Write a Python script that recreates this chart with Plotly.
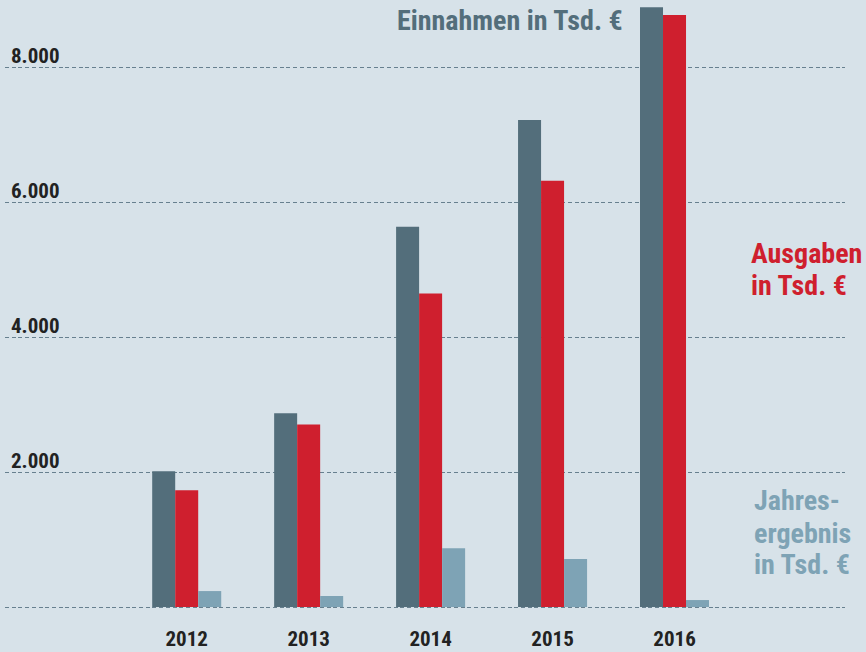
import plotly.graph_objects as go

years = ["2012", "2013", "2014", "2015", "2016"]
einnahmen = [2010, 2870, 5635, 7215, 8885]
ausgaben = [1730, 2705, 4645, 6315, 8770]
jahresergebnis = [236, 163, 872, 710, 103]

ytick_vals = [0, 2000, 4000, 6000, 8000]
ytick_text = ["", "2.000", "4.000", "6.000", "8.000"]

C_E = "#536e7b"
C_A = "#cf1f2e"
C_J = "#7ea3b5"
BG = "#d7e2e9"
FONT = "Roboto Condensed, Open Sans Condensed, sans-serif"

fig = go.Figure()
fig.add_trace(go.Bar(x=years, y=einnahmen, name="Einnahmen", marker=dict(color=C_E, line=dict(width=0))))
fig.add_trace(go.Bar(x=years, y=ausgaben, name="Ausgaben", marker=dict(color=C_A, line=dict(width=0))))
fig.add_trace(go.Bar(x=years, y=jahresergebnis, name="Jahresergebnis", marker=dict(color=C_J, line=dict(width=0))))

fig.update_layout(
    width=866, height=652,
    margin=dict(l=5, r=21, t=0, b=42),
    paper_bgcolor=BG, plot_bgcolor=BG,
    barmode="group", bargap=0.434, bargroupgap=0,
    showlegend=False,
    font=dict(family=FONT, color="#222222"),
)
fig.update_xaxes(
    type="category", range=[-1.49, 5.398],
    showgrid=False, zeroline=False, showline=False,
    ticks="", ticklabelstandoff=14,
    tickfont=dict(size=21, color="#222222", family=FONT, weight="bold"),
)
fig.update_yaxes(
    range=[-44.4, 8992.6],
    tickvals=ytick_vals, ticktext=ytick_text,
    ticklabelposition="inside top", ticklabelstandoff=3, ticklabelshift=3,
    showgrid=True, gridcolor="#67808f", gridwidth=1.4, griddash="4px,2.7px",
    zeroline=False, showline=False, ticks="",
    tickfont=dict(size=21, color="#222222", family=FONT, weight="bold"),
)

def label(text, x, y, color, anchor):
    fig.add_annotation(xref="paper", yref="paper", x=x, y=y, xanchor=anchor, yanchor="middle",
                       text=text, showarrow=False, align=anchor,
                       font=dict(size=28, color=color, family=FONT, weight="bold"))

label("Einnahmen in Tsd. €", 0.7381, 0.9656, C_E, "right")
label("Ausgaben", 0.8857, 0.5844, C_A, "left")
label("in Tsd. €", 0.8857, 0.532, C_A, "left")
label("Jahres-", 0.8893, 0.1803, C_J, "left")
label("ergebnis", 0.8893, 0.1262, C_J, "left")
label("in Tsd. €", 0.8893, 0.0738, C_J, "left")

fig.write_html("out.html", config={"displayModeBar": False},
               post_script="document.body.style.margin='0';")
